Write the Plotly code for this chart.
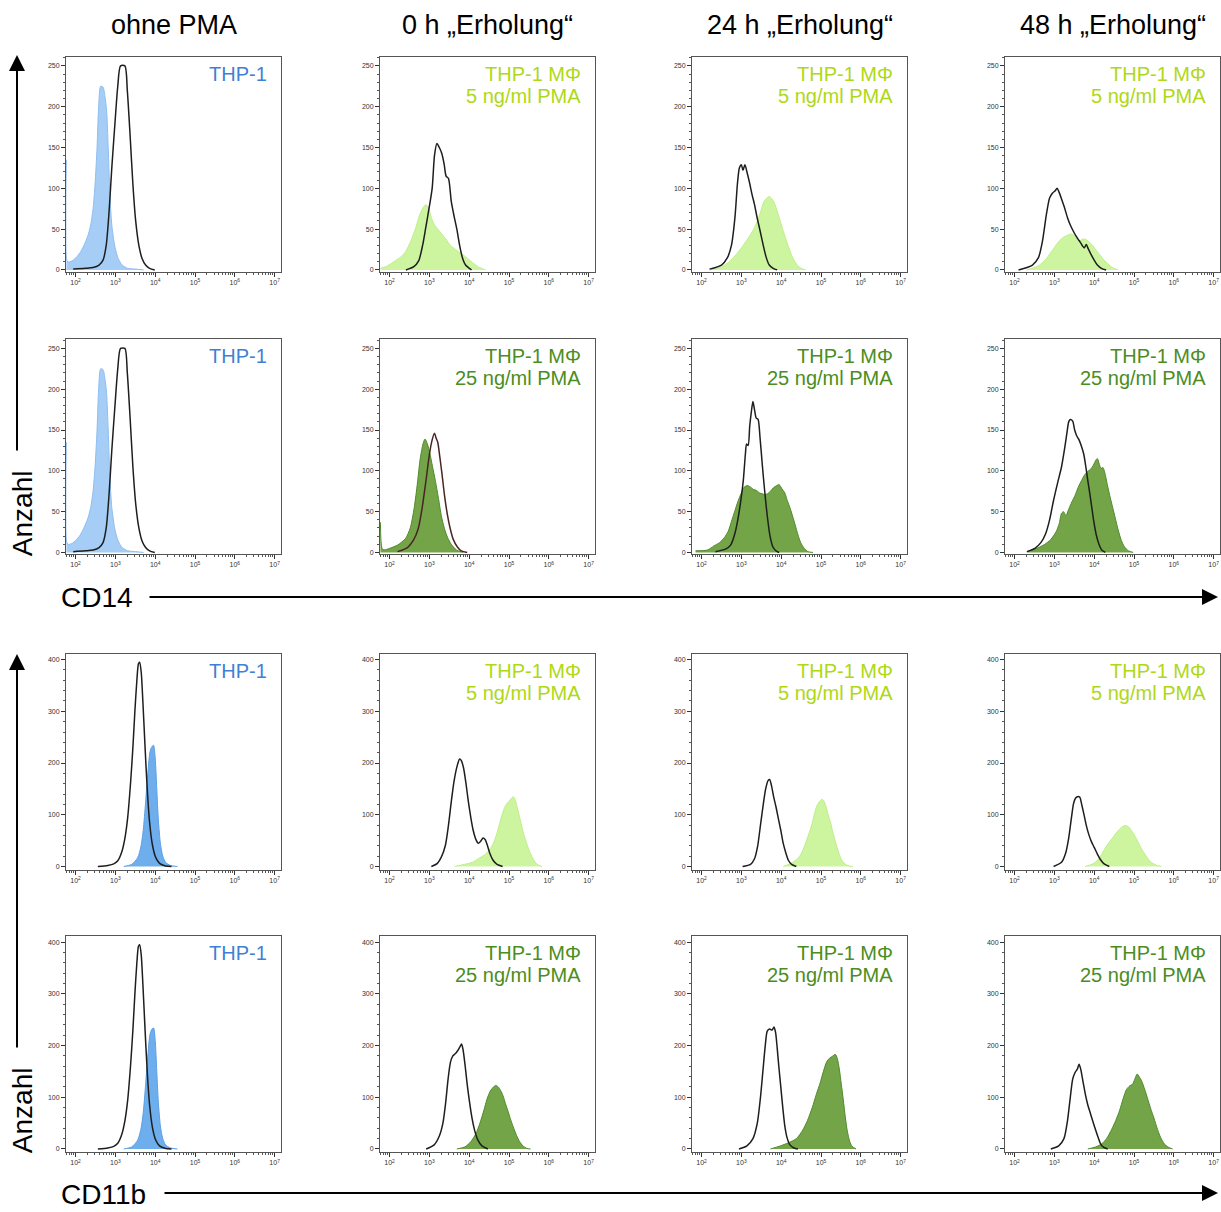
import math
import plotly.graph_objects as go

W, H = 1221, 1212
FONT = "Liberation Sans, Arial, sans-serif"

# ---------------- data: (log10 fluorescence intensity, cell count) ----------------
# CD14, untreated THP-1 (same in both CD14 rows)
CD14_THP1_CTRL = [(1.94, 1), (2.24, 2), (2.44, 3), (2.59, 6), (2.69, 12), (2.77, 30), (2.84, 70), (2.91, 125),
                  (2.99, 180), (3.06, 225), (3.13, 250), (3.24, 250), (3.3, 220), (3.37, 165), (3.44, 105),
                  (3.51, 60), (3.59, 30), (3.67, 14), (3.76, 6), (3.86, 2), (3.99, 0)]
CD14_THP1_STAIN = [(1.77, 135), (1.8, 10), (1.91, 11), (2.01, 15), (2.11, 21), (2.21, 30), (2.31, 42),
                   (2.38, 55), (2.44, 75), (2.49, 105), (2.54, 150), (2.58, 200), (2.63, 225), (2.69, 224),
                   (2.74, 212), (2.78, 195), (2.82, 150), (2.86, 95), (2.91, 55), (2.99, 28), (3.07, 14),
                   (3.17, 6), (3.31, 2), (3.51, 1), (3.71, 0)]
# CD14, 5 ng/ml PMA
CD14_5_0H_CTRL = [(2.41, 0), (2.61, 4), (2.73, 11), (2.83, 30), (2.91, 52), (2.99, 75), (3.07, 100), (3.13, 141),
                  (3.19, 155), (3.25, 150), (3.31, 143), (3.37, 130), (3.42, 115), (3.48, 112), (3.55, 84),
                  (3.62, 66), (3.69, 50), (3.76, 30), (3.83, 15), (3.91, 6), (4.06, 0)]
CD14_5_0H_STAIN = [(1.77, 2), (1.91, 4), (2.14, 11), (2.31, 17), (2.41, 23), (2.53, 35), (2.66, 52), (2.76, 68),
                   (2.84, 76), (2.91, 80), (2.98, 76), (3.05, 64), (3.13, 55), (3.21, 50), (3.31, 44), (3.41, 38),
                   (3.53, 30), (3.66, 25), (3.77, 21), (3.86, 18), (3.96, 14), (4.11, 8), (4.26, 3), (4.41, 0)]
CD14_5_24H_CTRL = [(2.2, 1), (2.5, 6), (2.65, 15), (2.75, 30), (2.84, 65), (2.9, 105), (2.95, 125), (3.0, 129),
                   (3.04, 122), (3.09, 129), (3.14, 120), (3.2, 108), (3.27, 92), (3.33, 80), (3.4, 63),
                   (3.47, 48), (3.55, 30), (3.62, 16), (3.7, 6), (3.8, 2), (3.9, 0)]
CD14_5_24H_STAIN = [(2.2, 0), (2.5, 4), (2.7, 10), (2.87, 19), (3.0, 27), (3.13, 36), (3.25, 45), (3.33, 52),
                    (3.42, 62), (3.5, 74), (3.57, 84), (3.64, 88), (3.7, 90), (3.77, 87), (3.83, 82), (3.9, 72),
                    (4.0, 56), (4.07, 45), (4.15, 33), (4.23, 22), (4.3, 14), (4.4, 6), (4.5, 2), (4.62, 0)]
CD14_5_48H_CTRL = [(2.1, 0), (2.45, 6), (2.6, 15), (2.7, 35), (2.8, 68), (2.88, 88), (2.95, 94), (3.02, 97),
                   (3.07, 100), (3.12, 95), (3.18, 87), (3.25, 77), (3.33, 64), (3.4, 55), (3.47, 48),
                   (3.55, 41), (3.62, 36), (3.7, 30), (3.75, 27), (3.8, 31), (3.85, 26), (3.92, 19), (4.0, 12),
                   (4.08, 6), (4.18, 2), (4.3, 0)]
CD14_5_48H_STAIN = [(2.3, 0), (2.6, 5), (2.8, 14), (2.95, 24), (3.08, 33), (3.2, 39), (3.3, 42), (3.42, 44),
                    (3.5, 42), (3.58, 37), (3.65, 36), (3.72, 38), (3.8, 37), (3.88, 34), (3.96, 30), (4.05, 24),
                    (4.15, 18), (4.25, 12), (4.35, 7), (4.45, 3), (4.6, 0)]
# CD14, 25 ng/ml PMA
CD14_25_0H_CTRL = [(2.2, 1), (2.45, 6), (2.6, 15), (2.72, 29), (2.82, 55), (2.92, 90), (3.0, 120), (3.07, 138),
                   (3.13, 146), (3.17, 140), (3.21, 135), (3.26, 118), (3.32, 95), (3.38, 70), (3.45, 47),
                   (3.52, 30), (3.6, 16), (3.7, 7), (3.8, 2), (3.95, 0)]
CD14_25_0H_STAIN = [(1.77, 37), (1.81, 5), (1.86, 3), (2.0, 5), (2.2, 9), (2.4, 17), (2.52, 30), (2.62, 55),
                    (2.7, 85), (2.77, 115), (2.84, 133), (2.89, 139), (2.95, 133), (3.01, 122), (3.08, 105),
                    (3.15, 88), (3.23, 66), (3.3, 45), (3.38, 29), (3.46, 18), (3.55, 10), (3.68, 3), (3.85, 0)]
CD14_25_24H_CTRL = [(2.35, 1), (2.6, 4), (2.73, 9), (2.83, 22), (2.91, 40), (2.99, 65), (3.05, 89), (3.1, 120),
                    (3.13, 133), (3.17, 131), (3.21, 155), (3.25, 172), (3.29, 185), (3.33, 175), (3.37, 165),
                    (3.42, 163), (3.47, 140), (3.53, 105), (3.58, 78), (3.65, 45), (3.72, 20), (3.79, 7),
                    (3.87, 2), (3.95, 0)]
CD14_25_24H_STAIN = [(1.85, 2), (2.15, 3), (2.31, 8), (2.45, 12), (2.57, 18), (2.67, 26), (2.75, 38), (2.83, 50),
                     (2.91, 62), (2.99, 72), (3.07, 80), (3.15, 82), (3.23, 80), (3.31, 77), (3.38, 76),
                     (3.45, 73), (3.52, 72), (3.59, 71), (3.66, 72), (3.73, 75), (3.8, 79), (3.89, 82),
                     (3.95, 83), (4.02, 78), (4.09, 73), (4.15, 64), (4.22, 55), (4.29, 44), (4.35, 34),
                     (4.42, 22), (4.49, 12), (4.58, 5), (4.67, 1), (4.8, 0)]
CD14_25_48H_CTRL = [(2.31, 1), (2.51, 5), (2.66, 12), (2.78, 23), (2.88, 40), (2.98, 64), (3.08, 85), (3.18, 105),
                    (3.26, 128), (3.32, 148), (3.36, 160), (3.4, 163), (3.46, 161), (3.51, 150), (3.56, 143),
                    (3.62, 138), (3.68, 130), (3.74, 120), (3.79, 105), (3.84, 88), (3.89, 72), (3.94, 55),
                    (3.99, 38), (4.05, 22), (4.12, 10), (4.19, 3), (4.28, 0)]
CD14_25_48H_STAIN = [(2.31, 1), (2.56, 5), (2.76, 10), (2.91, 16), (3.04, 25), (3.12, 35), (3.18, 48), (3.23, 50),
                     (3.29, 45), (3.36, 53), (3.44, 62), (3.52, 70), (3.6, 80), (3.68, 88), (3.76, 95), (3.83, 99),
                     (3.91, 102), (3.98, 107), (4.04, 113), (4.08, 115), (4.13, 108), (4.17, 103), (4.22, 104),
                     (4.27, 97), (4.33, 83), (4.39, 70), (4.46, 56), (4.53, 42), (4.6, 28), (4.68, 15),
                     (4.76, 7), (4.86, 2), (4.98, 0)]
# CD11b, untreated THP-1 (same in both CD11b rows)
CD11B_THP1_CTRL = [(2.56, 0), (2.81, 2), (2.96, 5), (3.06, 11), (3.16, 28), (3.24, 55), (3.31, 95), (3.38, 160),
                   (3.44, 230), (3.49, 300), (3.54, 360), (3.58, 392), (3.61, 395), (3.65, 375), (3.69, 320),
                   (3.74, 240), (3.8, 150), (3.86, 85), (3.93, 42), (4.01, 18), (4.11, 6), (4.26, 1), (4.41, 0)]
CD11B_THP1_STAIN = [(3.21, 0), (3.41, 4), (3.56, 17), (3.64, 38), (3.7, 70), (3.76, 125), (3.82, 185),
                    (3.87, 222), (3.92, 232), (3.96, 234), (4.0, 210), (4.04, 150), (4.08, 90), (4.13, 45),
                    (4.19, 20), (4.26, 8), (4.38, 2), (4.56, 0)]
# CD11b, 5 ng/ml PMA
CD11B_5_0H_CTRL = [(3.05, 0), (3.2, 6), (3.3, 18), (3.4, 40), (3.48, 80), (3.55, 125),
                   (3.62, 165), (3.7, 195), (3.76, 208), (3.8, 205), (3.86, 190), (3.92, 160), (3.98, 125),
                   (4.04, 95), (4.1, 70), (4.17, 52), (4.23, 45), (4.29, 49), (4.35, 55), (4.4, 52), (4.46, 40),
                   (4.52, 25), (4.6, 12), (4.7, 4), (4.84, 0)]
CD11B_5_0H_STAIN = [(3.63, 0), (3.88, 4), (4.08, 8), (4.23, 15), (4.38, 22), (4.51, 32), (4.61, 45), (4.7, 65),
                    (4.78, 88), (4.86, 108), (4.93, 120), (5.0, 126), (5.06, 132), (5.11, 135), (5.16, 128),
                    (5.22, 110), (5.29, 88), (5.36, 65), (5.43, 48), (5.5, 32), (5.57, 20), (5.65, 9),
                    (5.73, 3), (5.83, 0)]
CD11B_5_24H_CTRL = [(3.03, 0), (3.23, 4), (3.33, 15), (3.41, 40), (3.48, 80), (3.55, 120), (3.61, 150),
                    (3.67, 166), (3.71, 168), (3.76, 155), (3.81, 135), (3.87, 115), (3.93, 92), (3.99, 70),
                    (4.05, 45), (4.11, 28), (4.18, 12), (4.26, 4), (4.38, 0)]
CD11B_5_24H_STAIN = [(4.05, 0), (4.25, 6), (4.4, 14), (4.5, 24), (4.6, 42), (4.68, 60), (4.76, 78), (4.83, 100),
                     (4.9, 118), (4.96, 125), (5.02, 130), (5.07, 127), (5.12, 117), (5.18, 100), (5.24, 85),
                     (5.3, 65), (5.37, 46), (5.44, 28), (5.51, 14), (5.6, 5), (5.7, 1), (5.8, 0)]
CD11B_5_48H_CTRL = [(2.98, 0), (3.18, 8), (3.28, 25), (3.36, 55), (3.43, 95), (3.48, 121), (3.53, 132),
                    (3.58, 135), (3.64, 134), (3.68, 122), (3.73, 105), (3.8, 80), (3.86, 63), (3.93, 48),
                    (4.0, 37), (4.08, 24), (4.16, 13), (4.25, 5), (4.38, 0)]
CD11B_5_48H_STAIN = [(3.77, 0), (3.97, 5), (4.12, 15), (4.25, 32), (4.37, 46), (4.49, 58), (4.61, 70),
                     (4.71, 77), (4.79, 79), (4.87, 76), (4.95, 68), (5.03, 58), (5.11, 46), (5.19, 34),
                     (5.27, 24), (5.37, 13), (5.47, 6), (5.57, 2), (5.69, 0)]
# CD11b, 25 ng/ml PMA
CD11B_25_0H_CTRL = [(2.92, 0), (3.12, 8), (3.25, 25), (3.34, 50), (3.41, 90), (3.47, 135), (3.53, 168),
                    (3.59, 180), (3.65, 184), (3.71, 190), (3.77, 198), (3.81, 203), (3.85, 190), (3.9, 160),
                    (3.95, 125), (4.01, 90), (4.07, 60), (4.14, 35), (4.22, 17), (4.32, 6), (4.47, 0)]
CD11B_25_0H_STAIN = [(3.69, 0), (3.89, 4), (4.04, 14), (4.17, 30), (4.27, 50), (4.37, 75), (4.45, 97),
                     (4.53, 112), (4.61, 120), (4.67, 123), (4.73, 120), (4.79, 113), (4.85, 103), (4.91, 88),
                     (4.98, 72), (5.05, 55), (5.12, 40), (5.19, 26), (5.27, 14), (5.35, 6), (5.45, 1), (5.54, 0)]
CD11B_25_24H_CTRL = [(2.94, 0), (3.14, 6), (3.29, 20), (3.4, 50), (3.48, 100), (3.54, 150), (3.6, 200),
                     (3.65, 228), (3.71, 232), (3.77, 230), (3.82, 236), (3.86, 225), (3.9, 195), (3.94, 160),
                     (3.99, 120), (4.04, 80), (4.09, 45), (4.14, 24), (4.22, 8), (4.32, 2), (4.42, 0)]
CD11B_25_24H_STAIN = [(3.73, 0), (3.98, 6), (4.18, 12), (4.38, 20), (4.53, 35), (4.66, 55), (4.78, 80),
                      (4.88, 105), (4.98, 128), (5.06, 150), (5.14, 168), (5.22, 176), (5.3, 180), (5.36, 183),
                      (5.41, 175), (5.46, 155), (5.51, 125), (5.56, 95), (5.61, 62), (5.66, 35), (5.72, 15),
                      (5.78, 5), (5.88, 0)]
CD11B_25_48H_CTRL = [(2.91, 0), (3.11, 6), (3.24, 20), (3.33, 55), (3.4, 100), (3.46, 135), (3.52, 148),
                     (3.58, 155), (3.62, 164), (3.66, 155), (3.72, 130), (3.78, 105), (3.84, 85), (3.9, 70),
                     (3.96, 55), (4.03, 38), (4.1, 22), (4.16, 10), (4.24, 3), (4.34, 0)]
CD11B_25_48H_STAIN = [(3.84, 0), (4.04, 4), (4.19, 10), (4.31, 20), (4.44, 38), (4.54, 55), (4.64, 75),
                      (4.73, 98), (4.81, 115), (4.89, 122), (4.96, 125), (5.02, 135), (5.08, 145), (5.13, 140),
                      (5.19, 132), (5.27, 115), (5.34, 98), (5.42, 78), (5.5, 60), (5.59, 38), (5.67, 22),
                      (5.76, 10), (5.85, 4), (5.97, 0)]

COL_TITLES = ["ohne PMA", "0 h \u201eErholung\u201c", "24 h \u201eErholung\u201c", "48 h \u201eErholung\u201c"]
MARKERS = ["CD14", "CD11b"]
X_TICK_EXP = [2, 3, 4, 5, 6, 7]
Y_TICKS_CD14 = [0, 50, 100, 150, 200, 250]
Y_TICKS_CD11B = [0, 100, 200, 300, 400]

# grid of panels: rows = CD14 5ng, CD14 25ng, CD11b 5ng, CD11b 25ng ; cols = ohne, 0h, 24h, 48h
PANELS = [
    [(CD14_THP1_STAIN, CD14_THP1_CTRL), (CD14_5_0H_STAIN, CD14_5_0H_CTRL),
     (CD14_5_24H_STAIN, CD14_5_24H_CTRL), (CD14_5_48H_STAIN, CD14_5_48H_CTRL)],
    [(CD14_THP1_STAIN, CD14_THP1_CTRL), (CD14_25_0H_STAIN, CD14_25_0H_CTRL),
     (CD14_25_24H_STAIN, CD14_25_24H_CTRL), (CD14_25_48H_STAIN, CD14_25_48H_CTRL)],
    [(CD11B_THP1_STAIN, CD11B_THP1_CTRL), (CD11B_5_0H_STAIN, CD11B_5_0H_CTRL),
     (CD11B_5_24H_STAIN, CD11B_5_24H_CTRL), (CD11B_5_48H_STAIN, CD11B_5_48H_CTRL)],
    [(CD11B_THP1_STAIN, CD11B_THP1_CTRL), (CD11B_25_0H_STAIN, CD11B_25_0H_CTRL),
     (CD11B_25_24H_STAIN, CD11B_25_24H_CTRL), (CD11B_25_48H_STAIN, CD11B_25_48H_CTRL)],
]
ROW_DOSE = ["5 ng/ml PMA", "25 ng/ml PMA", "5 ng/ml PMA", "25 ng/ml PMA"]

# ---------------- styling / layout ----------------
COL_PX = [(66, 281), (380, 595), (692, 907), (1005, 1220)]
ROW_PX = [(57, 272), (340, 555), (655, 871), (938, 1154)]
X_RANGE = [1.76, 7.16]
Y_RANGE = {0: [-2, 261], 1: [-2, 261], 2: [-6, 411], 3: [-6, 411]}

BLUE_TXT = "#3f7fd6"
LGREEN_TXT = "#afd816"
DGREEN_TXT = "#4b8d1e"
STAIN_STYLE = {
    "blue_light": ("rgba(150,196,243,0.85)", "#8dbdf0"),
    "blue_strong": ("rgba(95,165,235,0.9)", "#5a9fe6"),
    "lgreen": ("rgba(200,244,150,0.9)", "#bdee86"),
    "dgreen": ("rgba(108,160,62,0.95)", "#4f8a2a"),
}

fig = go.Figure()
layout = dict(width=W, height=H, margin=dict(l=0, r=0, t=0, b=0),
              paper_bgcolor="white", plot_bgcolor="white", showlegend=False,
              font=dict(family=FONT, color="black"))
annotations = []

minor_x = [n + math.log10(k) for n in range(1, 8) for k in range(2, 10)
           if X_RANGE[0] < n + math.log10(k) < X_RANGE[1]]


def px_x(p):
    return p / W


def px_y(p):
    return 1 - p / H


for r in range(4):
    for c in range(4):
        i = r * 4 + c + 1
        sfx = "" if i == 1 else str(i)
        xa, ya = "x" + sfx, "y" + sfx
        x0, x1 = COL_PX[c]
        y0, y1 = ROW_PX[r]
        stain, ctrl = PANELS[r][c]

        if c == 0:
            style = STAIN_STYLE["blue_light"] if r < 2 else STAIN_STYLE["blue_strong"]
        elif r in (0, 2):
            style = STAIN_STYLE["lgreen"]
        else:
            style = STAIN_STYLE["dgreen"]

        fig.add_trace(go.Scatter(
            x=[p[0] for p in stain], y=[p[1] for p in stain], xaxis=xa, yaxis=ya,
            mode="lines", line=dict(color=style[1], width=1, shape="spline", smoothing=0.7),
            fill="tozeroy", fillcolor=style[0], hoverinfo="skip"))
        ctrl_color = "#4a2424" if (r == 1 and c == 1) else "#1e1e1e"
        fig.add_trace(go.Scatter(
            x=[p[0] for p in ctrl], y=[p[1] for p in ctrl], xaxis=xa, yaxis=ya,
            mode="lines", line=dict(color=ctrl_color, width=1.5, shape="spline", smoothing=0.7),
            hoverinfo="skip"))

        yticks = Y_TICKS_CD14 if r < 2 else Y_TICKS_CD11B
        layout["xaxis" + sfx] = dict(
            domain=[px_x(x0), px_x(x1)], range=X_RANGE, anchor=ya,
            tickmode="array", tickvals=X_TICK_EXP,
            ticktext=["10<sup>%d</sup>" % e for e in X_TICK_EXP],
            ticks="outside", ticklen=4, tickwidth=1, tickcolor="#333",
            tickfont=dict(size=7, color="#333"),
            minor=dict(tickmode="array", tickvals=minor_x, ticks="outside", ticklen=2,
                       tickcolor="#555", showgrid=False),
            showline=True, linecolor="#555", linewidth=1, mirror=True,
            showgrid=False, zeroline=False, fixedrange=True)
        layout["yaxis" + sfx] = dict(
            domain=[px_y(y1), px_y(y0)], range=Y_RANGE[r], anchor=xa,
            tickmode="array", tickvals=yticks,
            ticks="outside", ticklen=4, tickwidth=1, tickcolor="#333",
            tickfont=dict(size=7, color="#333"),
            minor=dict(dtick=10 if r < 2 else 20, tick0=0, ticks="outside", ticklen=2,
                       tickcolor="#555", showgrid=False),
            showline=True, linecolor="#555", linewidth=1, mirror=True,
            showgrid=False, zeroline=False, fixedrange=True)

        # panel labels (top right)
        if c == 0:
            lines = [("THP-1", BLUE_TXT)]
        else:
            col = LGREEN_TXT if r in (0, 2) else DGREEN_TXT
            lines = [("THP-1 M\u03a6", col), (ROW_DOSE[r], col)]
        for k, (txt, colr) in enumerate(lines):
            annotations.append(dict(
                x=px_x(x1 - 12), y=px_y(y0 + 17 + 22 * k), xref="paper", yref="paper",
                text=txt, showarrow=False, xanchor="right", yanchor="middle",
                font=dict(size=20, color=colr, family=FONT)))

# column titles
for c, t in enumerate(COL_TITLES):
    x0, x1 = COL_PX[c]
    annotations.append(dict(x=px_x((x0 + x1) / 2), y=px_y(25), xref="paper", yref="paper",
                            text=t, showarrow=False, xanchor="center", yanchor="middle",
                            font=dict(size=27, color="black", family=FONT)))

# axis names and arrows
for blk, (name, ytxt, yarrow, xstart, ytop, ybot, yname) in enumerate([
        (MARKERS[0], 598, 598, 148, 55, 452, 514),
        (MARKERS[1], 1196, 1195, 163, 655, 1050, 1112)]):
    annotations.append(dict(x=px_x(59), y=px_y(ytxt), xref="paper", yref="paper", text=name,
                            showarrow=False, xanchor="left", yanchor="middle",
                            font=dict(size=28, color="black", family=FONT)))
    annotations.append(dict(x=px_x(1218), y=px_y(yarrow), xref="paper", yref="paper", text="",
                            showarrow=True, ax=-(1218 - xstart), ay=0, axref="pixel", ayref="pixel",
                            arrowhead=2, arrowsize=1.6, arrowwidth=2, arrowcolor="black"))
    annotations.append(dict(x=px_x(17), y=px_y(ytop), xref="paper", yref="paper", text="",
                            showarrow=True, ax=0, ay=(ybot - ytop), axref="pixel", ayref="pixel",
                            arrowhead=2, arrowsize=1.6, arrowwidth=2, arrowcolor="black"))
    annotations.append(dict(x=px_x(22), y=px_y(yname), xref="paper", yref="paper", text="Anzahl",
                            showarrow=False, textangle=-90, xanchor="center", yanchor="middle",
                            font=dict(size=28, color="black", family=FONT)))

layout["annotations"] = annotations
fig.update_layout(**layout)
fig.write_html("out.html", config={"displayModeBar": False},
               post_script="document.body.style.margin='0px';document.body.style.padding='0px';"
                           "document.body.style.overflow='hidden';")
